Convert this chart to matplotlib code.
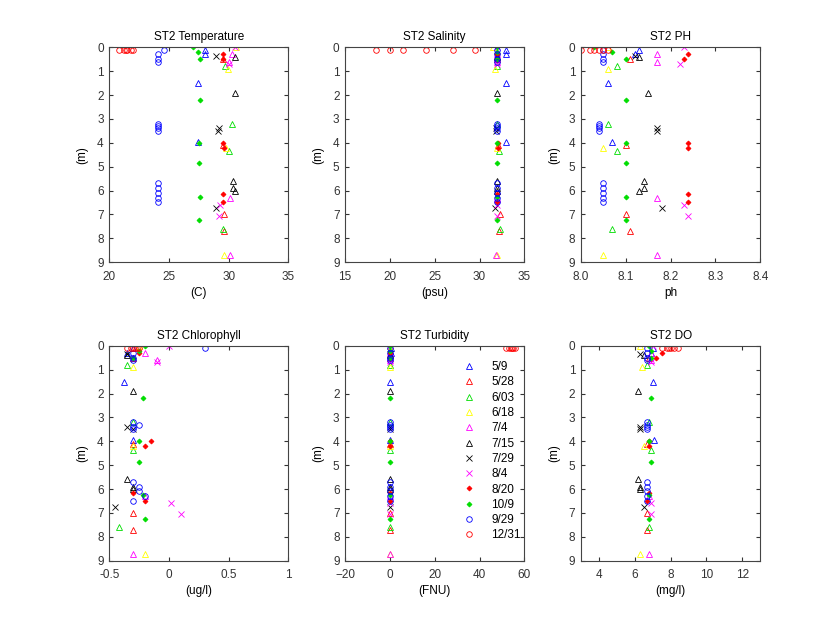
import numpy as np
import matplotlib.pyplot as plt

labels = ["5/9", "5/28", "6/03", "6/18", "7/4", "7/15", "7/29", "8/4", "8/20", "10/9", "9/29", "12/31"]
colors = ["blue", "red", "#00dd00", "yellow", "magenta", "black", "black", "magenta", "red", "#00dd00", "blue", "red"]
markers = ["^", "^", "^", "^", "^", "^", "x", "x", "D", "D", "o", "o"]
filled = [False, False, False, False, False, False, True, True, True, True, False, False]

# depth of each sample (m)
depth = [
    [0.1, 0.3, 1.5, 3.95],
    [0.5, 4.1, 7.0, 7.7],
    [0.8, 3.2, 4.35, 7.6],
    [0.0, 0.9, 4.2, 8.7],
    [0.3, 0.6, 6.3, 8.7],
    [0.4, 1.9, 5.6, 5.9, 6.0],
    [0.35, 3.4, 3.5, 6.75],
    [0.0, 0.7, 6.6, 7.05],
    [0.3, 0.5, 4.0, 4.2, 6.15, 6.5],
    [0.0, 0.2, 0.5, 2.2, 4.0, 4.85, 6.25, 7.25],
    [0.1, 0.3, 0.5, 0.6, 3.2, 3.3, 3.4, 3.5, 5.7, 5.9, 6.1, 6.3, 6.5],
    [0.1, 0.1, 0.1, 0.1, 0.1, 0.1],
]

temp = [
    [28.0, 28.0, 27.4, 27.4],
    [29.5, 29.5, 29.6, 29.6],
    [29.7, 30.3, 30.0, 29.5],
    [30.6, 29.9, 29.8, 29.6],
    [30.3, 30.0, 30.1, 30.1],
    [30.5, 30.5, 30.4, 30.4, 30.5],
    [28.9, 29.2, 29.1, 28.9],
    [30.5, 30.0, 29.3, 29.2],
    [29.5, 29.5, 29.5, 29.6, 29.5, 29.5],
    [27.0, 27.4, 27.6, 27.6, 27.5, 27.5, 27.6, 27.5],
    [24.6, 24.1, 24.1, 24.1, 24.1, 24.1, 24.1, 24.1, 24.1, 24.1, 24.1, 24.1, 24.1],
    [20.8, 21.2, 21.5, 21.8, 22.0, 21.4],
]
sal = [
    [33.0, 32.9, 32.9, 32.9],
    [32.0, 32.1, 32.3, 32.2],
    [31.9, 32.0, 32.2, 32.3],
    [31.5, 31.7, 31.9, 32.0],
    [32.0, 32.0, 32.0, 31.8],
    [31.9, 32.0, 32.0, 32.0, 31.9],
    [31.9, 31.8, 31.8, 31.7],
    [32.0, 32.0, 31.9, 31.9],
    [32.0, 32.0, 32.1, 32.1, 32.0, 32.0],
    [32.0, 32.0, 32.0, 32.0, 32.0, 32.0, 32.0, 32.0],
    [32.0, 32.0, 32.0, 32.0, 32.0, 32.0, 32.0, 32.0, 32.0, 32.0, 32.0, 32.0, 32.0],
    [18.5, 20.0, 21.5, 24.0, 27.0, 29.5],
]
ph = [
    [8.13, 8.12, 8.06, 8.07],
    [8.11, 8.1, 8.1, 8.11],
    [8.08, 8.06, 8.08, 8.07],
    [8.06, 8.06, 8.05, 8.05],
    [8.17, 8.17, 8.17, 8.17],
    [8.13, 8.15, 8.14, 8.14, 8.13],
    [8.12, 8.17, 8.17, 8.18],
    [8.23, 8.22, 8.23, 8.24],
    [8.24, 8.23, 8.24, 8.24, 8.24, 8.24],
    [8.03, 8.07, 8.1, 8.1, 8.1, 8.1, 8.1, 8.1],
    [8.05, 8.05, 8.05, 8.05, 8.04, 8.04, 8.04, 8.04, 8.05, 8.05, 8.05, 8.05, 8.05],
    [8.0, 8.02, 8.03, 8.04, 8.05, 8.06],
]
chl = [
    [-0.3, -0.35, -0.38, -0.3],
    [-0.3, -0.3, -0.3, -0.3],
    [-0.35, -0.3, -0.3, -0.42],
    [-0.25, -0.3, -0.3, -0.2],
    [-0.2, -0.1, -0.2, -0.3],
    [-0.35, -0.3, -0.35, -0.3, -0.3],
    [-0.35, -0.35, -0.3, -0.45],
    [0.0, -0.1, 0.02, 0.1],
    [-0.25, -0.3, -0.15, -0.2, -0.3, -0.2],
    [-0.2, -0.25, -0.3, -0.22, -0.25, -0.25, -0.22, -0.2],
    [0.3, -0.3, -0.3, -0.3, -0.3, -0.25, -0.3, -0.3, -0.3, -0.25, -0.25, -0.2, -0.3],
    [-0.3, -0.28, -0.25, -0.35, -0.32, -0.27],
]
turb = [
    [0.5, 0.3, 0.0, 0.0],
    [0.0, 0.0, 0.0, 0.0],
    [0.0, 0.0, 0.0, 0.0],
    [0.0, 0.0, 0.0, 0.0],
    [0.0, 0.0, 0.0, 0.0],
    [0.0, 0.0, 0.0, 0.0, 0.0],
    [0.0, 0.0, 0.0, 0.0],
    [0.0, 0.0, 0.0, 0.0],
    [0.0, 0.0, 0.0, 0.0, 0.0, 0.0],
    [0.0, 0.0, 0.0, 0.0, 0.0, 0.0, 0.0, 0.0],
    [0.0, 0.0, 0.0, 0.0, 0.0, 0.0, 0.0, 0.0, 0.0, 0.0, 0.0, 0.0, 0.0],
    [52.0, 53.0, 54.0, 55.0, 56.0, 54.5],
]
do = [
    [7.0, 6.9, 7.0, 7.1],
    [6.8, 6.7, 6.7, 6.7],
    [6.7, 6.8, 6.9, 6.8],
    [6.3, 6.4, 6.5, 6.3],
    [6.9, 6.9, 6.8, 6.8],
    [6.5, 6.2, 6.2, 6.3, 6.3],
    [6.3, 6.3, 6.3, 6.5],
    [7.0, 6.9, 6.9, 6.9],
    [7.5, 7.2, 6.8, 6.8, 6.8, 6.7],
    [6.8, 6.9, 6.9, 6.9, 6.8, 6.9, 6.8, 6.8],
    [6.7, 6.7, 6.7, 6.7, 6.7, 6.7, 6.7, 6.7, 6.7, 6.7, 6.7, 6.7, 6.7],
    [7.5, 7.8, 8.0, 8.2, 8.4, 7.9],
]

panels = [
    ("ST2 Temperature", "(C)", temp, (20, 35), [20, 25, 30, 35]),
    ("ST2 Salinity", "(psu)", sal, (15, 35), [15, 20, 25, 30, 35]),
    ("ST2 PH", "ph", ph, (8, 8.4), [8, 8.1, 8.2, 8.3, 8.4]),
    ("ST2 Chlorophyll", "(ug/l)", chl, (-0.5, 1), [-0.5, 0, 0.5, 1]),
    ("ST2 Turbidity", "(FNU)", turb, (-20, 60), [-20, 0, 20, 40, 60]),
    ("ST2 DO", "(mg/l)", do, (3, 13), [4, 6, 8, 10, 12]),
]
tick_fmt = [None, None, None, ["-0.5", "0", "0.5", "1"], None, None]

plt.rcParams['font.family'] = 'Liberation Sans'
plt.rcParams['font.size'] = 8.5
fig = plt.figure(figsize=(8.4, 6.3), dpi=100)
lefts = [0.13, 0.4108, 0.6916]
bottoms = [0.5838, 0.11]
for k, (title, xlab, vals, xl, xt) in enumerate(panels):
    ax = fig.add_axes([lefts[k % 3], bottoms[k // 3], 0.2134, 0.3412])
    for sp in ax.spines.values():
        sp.set_color("#444444")
    for i in range(len(labels)):
        mfc = colors[i] if filled[i] else "none"
        ms = 2.5 if markers[i] == "D" else 4
        ax.plot(vals[i], depth[i], linestyle="none", marker=markers[i], markersize=ms,
                markeredgecolor=colors[i], markerfacecolor=mfc, markeredgewidth=0.6,
                label=labels[i])
    ax.set_xlim(xl)
    ax.set_ylim(9, 0)
    ax.set_xticks(xt)
    if tick_fmt[k]:
        ax.set_xticklabels(tick_fmt[k])
    ax.set_yticks(range(10))
    ax.tick_params(direction="in", top=True, right=True, length=3, colors="#333333")
    ax.tick_params(axis="x", pad=6)
    ax.tick_params(axis="y", pad=4)
    ax.set_title(title, fontsize=8.5, pad=5)
    ax.set_xlabel(xlab, labelpad=3)
    ax.set_ylabel("(m)", labelpad=6)
    if k == 4:
        ax.legend(loc="lower left", bbox_to_anchor=(0.58, 0.04), frameon=False,
                  fontsize=8.5, labelspacing=0.28, handlelength=1.5, handletextpad=1.2)
fig.savefig("out.png", dpi=100)
